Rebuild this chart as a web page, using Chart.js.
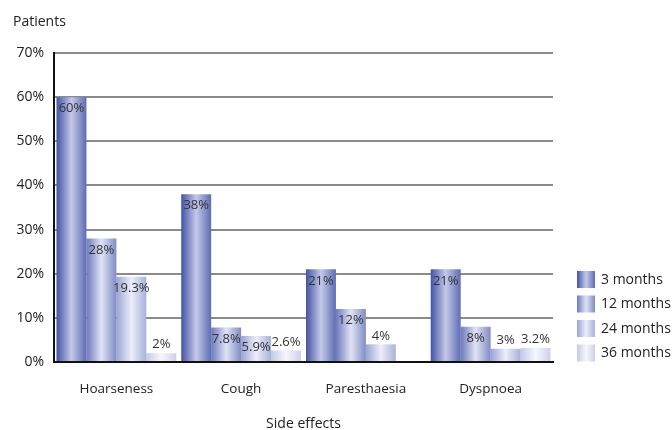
<!DOCTYPE html>
<html>
<head>
<meta charset="utf-8">
<script src="https://cdn.jsdelivr.net/npm/chart.js@4.4.1/dist/chart.umd.min.js"></script>
<style>
  html, body { margin: 0; padding: 0; background: #fff; }
  #wrap { width: 672px; height: 430px; position: relative; }
</style>
</head>
<body>
<div id="wrap"><canvas id="c" width="672" height="430"></canvas></div>
<script>
// Side effects reported at each follow-up point (% of patients)
const categories = ['Hoarseness', 'Cough', 'Paresthaesia', 'Dyspnoea'];
const seriesNames = ['3 months', '12 months', '24 months', '36 months'];
const months3  = [60, 38, 21, 21];
const months12 = [28, 7.8, 12, 8];
const months24 = [19.3, 5.9, 4, 3];
const months36 = [2, 2.6, null, 3.2];
const yTicks = [0, 10, 20, 30, 40, 50, 60, 70];

// Shaded cylinder look for each series: [left edge, highlight, right edge]
const shades = [
  ['#4253a5', '#c4c9e8', '#5d6cb4'],
  ['#6c79bd', '#e0e3f4', '#7f8bc6'],
  ['#9aa3d4', '#eceef9', '#a9b1da'],
  ['#c4c9e7', '#f6f7fc', '#ccd1eb']
];

const FONT = '"Open Sans", "Noto Sans", sans-serif';

function makeGradient(ctx, x0, x1, s) {
  const g = ctx.createLinearGradient(x0, 0, x1, 0);
  g.addColorStop(0, s[0]);
  g.addColorStop(0.5, s[1]);
  g.addColorStop(1, s[2]);
  return g;
}

const shadingPlugin = {
  id: 'shading',
  beforeDatasetsDraw(chart) {
    const ctx = chart.ctx;
    chart.data.datasets.forEach((ds, i) => {
      const meta = chart.getDatasetMeta(i);
      meta.data.forEach(bar => {
        if (!bar || bar.width == null) return;
        const x0 = bar.x - bar.width / 2, x1 = bar.x + bar.width / 2;
        // each bar owns its options object (scriptable colour), so this is per bar
        bar.options = Object.assign({}, bar.options, {
          backgroundColor: makeGradient(ctx, x0, x1, shades[i])
        });
      });
    });
  },
  afterDatasetsDraw(chart) {
    const ctx = chart.ctx;
    const base = chart.scales.y.getPixelForValue(0);
    ctx.save();
    ctx.font = '13px ' + FONT;
    ctx.fillStyle = '#333';
    ctx.textAlign = 'center';
    chart.data.datasets.forEach((ds, i) => {
      const meta = chart.getDatasetMeta(i);
      meta.data.forEach((bar, j) => {
        const v = ds.data[j];
        if (v == null) return;
        const h = base - bar.y;
        if (h >= 20) {
          ctx.textBaseline = 'top';
          ctx.fillText(v + '%', bar.x, bar.y + 5);
        } else {
          ctx.textBaseline = 'bottom';
          ctx.fillText(v + '%', bar.x, bar.y - 2);
        }
      });
    });
    ctx.restore();
  },
  afterDraw(chart) {
    const ctx = chart.ctx;
    const area = chart.chartArea;
    ctx.save();
    // axis titles
    ctx.fillStyle = '#222';
    ctx.font = '14px ' + FONT;
    ctx.textBaseline = 'middle';
    ctx.textAlign = 'left';
    ctx.fillText('Patients', 13, 22);
    ctx.textAlign = 'center';
    ctx.fillText('Side effects', (area.left + area.right) / 2, 424);
    // legend
    ctx.textAlign = 'left';
    ctx.font = '14px ' + FONT;
    seriesNames.forEach((name, i) => {
      const bx = 577, by = 271 + i * 24.5, bw = 18, bh = 17;
      ctx.fillStyle = makeGradient(ctx, bx, bx + bw, shades[i]);
      ctx.fillRect(bx, by, bw, bh);
      ctx.fillStyle = '#222';
      ctx.fillText(name, 601, by + bh / 2 + 0.5);
    });
    ctx.restore();
  }
};

const datasets = [months3, months12, months24, months36].map((d, i) => ({
  label: seriesNames[i],
  data: d,
  backgroundColor: () => shades[i][0],
  borderWidth: 0,
  barPercentage: 1.0,
  categoryPercentage: 0.96
}));

new Chart(document.getElementById('c'), {
  type: 'bar',
  data: { labels: categories, datasets },
  plugins: [shadingPlugin],
  options: {
    responsive: false,
    animation: false,
    layout: { padding: { left: 0, right: 119, top: 53, bottom: 0 } },
    plugins: { legend: { display: false }, tooltip: { enabled: false } },
    scales: {
      x: {
        grid: { display: false, drawTicks: false },
        border: { display: true, color: '#111', width: 2 },
        ticks: { color: '#222', font: { family: FONT, size: 13.5 }, padding: 19 },
        afterFit(scale) { scale.height = 68; }
      },
      y: {
        min: 0, max: 70,
        afterBuildTicks(scale) { scale.ticks = yTicks.map(v => ({ value: v })); },
        grid: { color: '#8a8a8a', lineWidth: 2, drawTicks: false },
        border: { display: true, color: '#111', width: 2 },
        ticks: {
          color: '#222', font: { family: FONT, size: 14 }, padding: 10,
          callback: v => v + '%'
        },
        afterFit(scale) { scale.width = 54; }
      }
    }
  }
});
</script>
</body>
</html>
